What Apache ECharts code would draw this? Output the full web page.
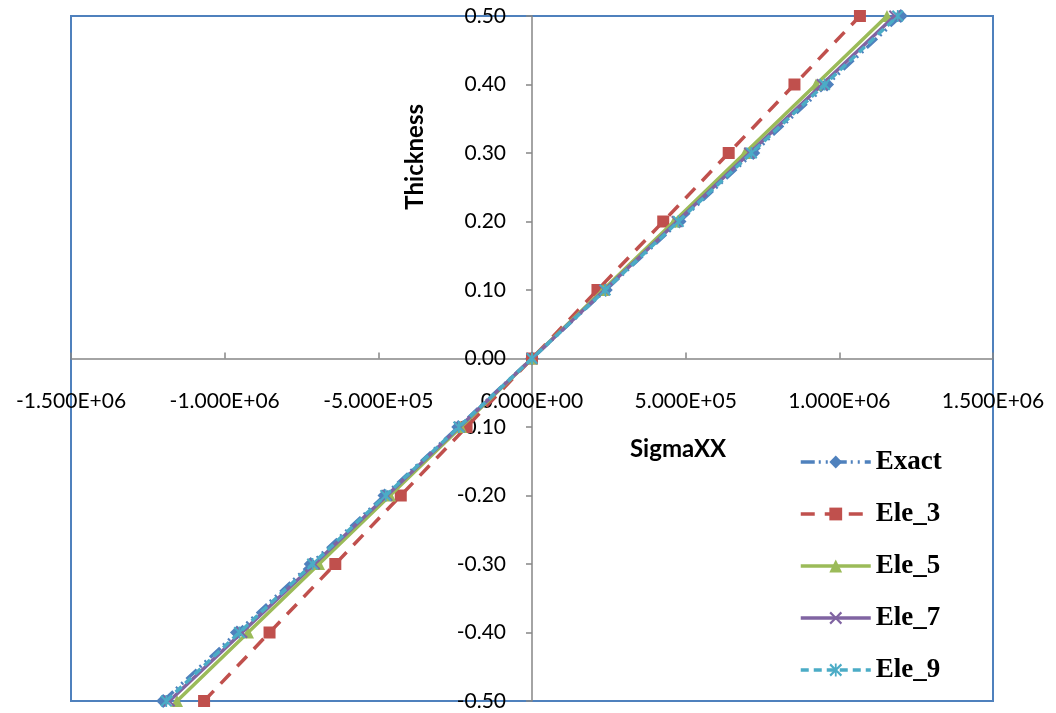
<!DOCTYPE html>
<html>
<head>
<meta charset="utf-8">
<script src="https://cdn.jsdelivr.net/npm/echarts@6/dist/echarts.min.js"></script>
<style>
html,body{margin:0;padding:0;background:#fff;}
#chart{width:1056px;height:713px;}
</style>
</head>
<body>
<div id="chart"></div>
<script>
// Thickness (y) values
var thickness = [-0.5, -0.4, -0.3, -0.2, -0.1, 0.0, 0.1, 0.2, 0.3, 0.4, 0.5];
// SigmaXX (x) values per series
var exact = [-1.200e6, -9.60e5, -7.20e5, -4.80e5, -2.40e5, 0, 2.40e5, 4.80e5, 7.20e5, 9.60e5, 1.200e6];
var ele3  = [-1.067e6, -8.54e5, -6.40e5, -4.27e5, -2.13e5, 0, 2.13e5, 4.27e5, 6.40e5, 8.54e5, 1.067e6];
var ele5  = [-1.155e6, -9.24e5, -6.93e5, -4.62e5, -2.31e5, 0, 2.31e5, 4.62e5, 6.93e5, 9.24e5, 1.155e6];
var ele7  = [-1.180e6, -9.44e5, -7.08e5, -4.72e5, -2.36e5, 0, 2.36e5, 4.72e5, 7.08e5, 9.44e5, 1.180e6];
var ele9  = [-1.190e6, -9.52e5, -7.14e5, -4.76e5, -2.38e5, 0, 2.38e5, 4.76e5, 7.14e5, 9.52e5, 1.190e6];
var seriesNames = ['Exact', 'Ele_3', 'Ele_5', 'Ele_7', 'Ele_9'];
var xTitle = 'SigmaXX';
var yTitle = 'Thickness';

function pairs(xs) { return xs.map(function (x, i) { return [x, thickness[i]]; }); }
function expFmt(v) {
  var s = Number(v).toExponential(3).toUpperCase();
  return s.replace(/E([+-])(\d)$/, 'E$10$2');
}

var xPath = 'path://M0,1.2 L1.2,0 L5,3.8 L8.8,0 L10,1.2 L6.2,5 L10,8.8 L8.8,10 L5,6.2 L1.2,10 L0,8.8 L3.8,5 Z';
var starPath = 'path://M0,1.2 L1.2,0 L5,3.8 L8.8,0 L10,1.2 L6.2,5 L10,8.8 L8.8,10 L5,6.2 L1.2,10 L0,8.8 L3.8,5 Z M4.3,0 L5.7,0 L5.7,10 L4.3,10 Z';

var styles = [
  {color: '#4F81BD', symbol: 'diamond', size: 14, dash: [14, 4, 2, 5, 2, 5]},
  {color: '#C0504D', symbol: 'rect', size: 12, dash: [14, 10]},
  {color: '#9BBB59', symbol: 'triangle', size: 12, dash: 'solid'},
  {color: '#8064A2', symbol: xPath, size: 12, dash: 'solid'},
  {color: '#4BACC6', symbol: starPath, size: 12, dash: [8, 5]}
];
var dataSets = [exact, ele3, ele5, ele7, ele9];

var series = dataSets.map(function (d, i) {
  var st = styles[i];
  return {
    name: seriesNames[i],
    type: 'line',
    data: pairs(d),
    symbol: st.symbol,
    symbolSize: st.size,
    showSymbol: true,
    itemStyle: {color: st.color},
    lineStyle: {color: st.color, width: 3.5, type: st.dash},
    z: 2 + i,
    animation: false
  };
});

var gridLeft = 71, gridTop = 16, gridW = 922, gridH = 685;

var chart = echarts.init(document.getElementById('chart'), null, {renderer: 'canvas'});
chart.setOption({
  backgroundColor: '#ffffff',
  animation: false,
  grid: {left: gridLeft, top: gridTop, width: gridW, height: gridH, show: true, borderColor: '#4F81BD', borderWidth: 2, backgroundColor: 'transparent', containLabel: false},
  xAxis: {
    type: 'value', min: -1500000, max: 1500000, interval: 500000,
    position: 'bottom', offset: -gridH / 2,
    axisLine: {onZero: false, lineStyle: {color: '#868686', width: 1.5}},
    axisTick: {show: true, inside: true, length: 6, lineStyle: {color: '#868686', width: 1.5}},
    splitLine: {show: false},
    axisLabel: {formatter: expFmt, color: '#000', fontFamily: 'Lato', fontSize: 21, margin: 32}
  },
  yAxis: {
    type: 'value', min: -0.5, max: 0.5, interval: 0.1,
    position: 'left', offset: -gridW / 2,
    axisLine: {onZero: false, lineStyle: {color: '#868686', width: 1.5}},
    axisTick: {show: true, inside: false, length: 6, lineStyle: {color: '#868686', width: 1.5}},
    splitLine: {show: false},
    axisLabel: {formatter: function (v) { return Number(v).toFixed(2); }, color: '#000', fontFamily: 'Lato', fontSize: 21, margin: 26}
  },
  legend: {
    orient: 'vertical', left: 799, top: 447, padding: 0,
    itemWidth: 70, itemHeight: 16, itemGap: 22,
    lineStyle: {width: 3.5},
    textStyle: {fontFamily: 'Liberation Serif', fontWeight: 'bold', fontSize: 27, lineHeight: 30, color: '#000'},
    data: seriesNames
  },
  graphic: [
    {type: 'text', left: 403, top: 104, rotation: Math.PI / 2, style: {text: yTitle, font: 'bold 24px Lato', fill: '#000'}},
    {type: 'text', left: 630, top: 437, style: {text: xTitle, font: 'bold 24px Lato', fill: '#000'}}
  ],
  series: series
});
</script>
</body>
</html>
